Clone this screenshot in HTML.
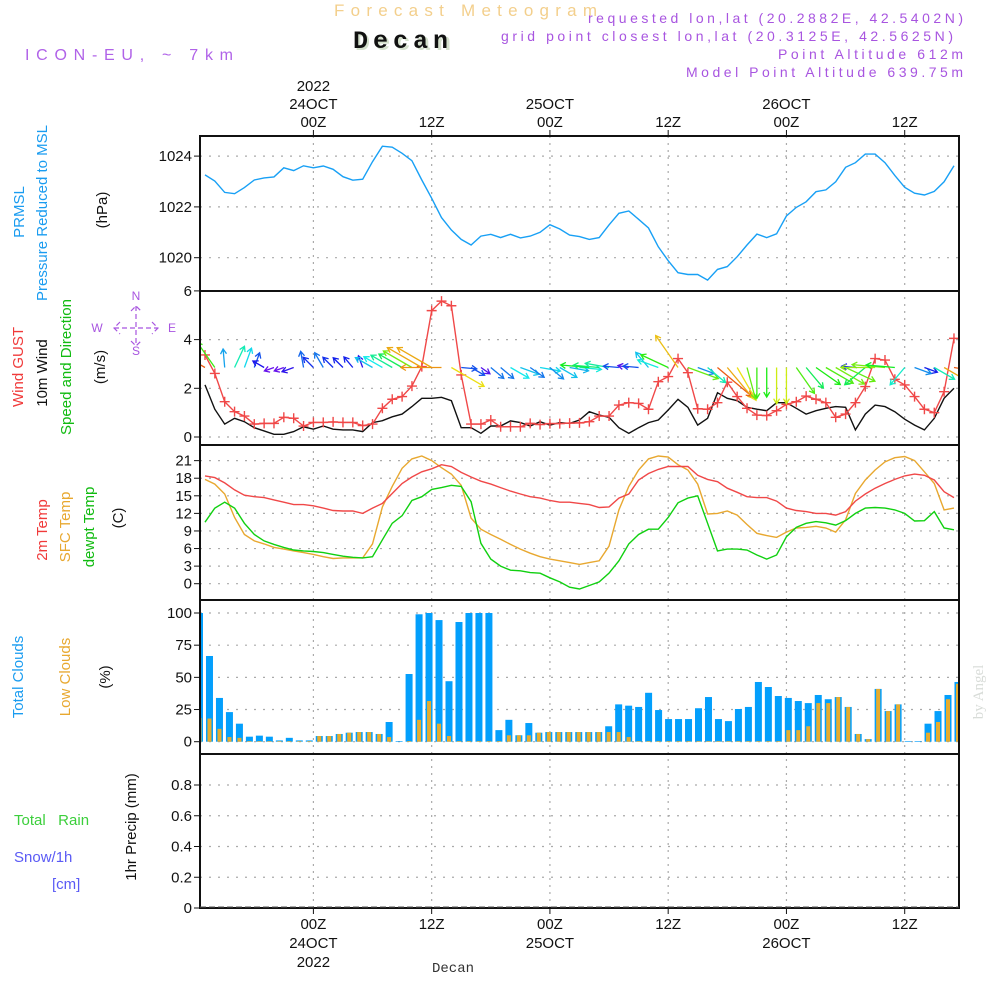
<!DOCTYPE html>
<html><head><meta charset="utf-8"><style>
body{margin:0;background:#fff}
svg{display:block;font-family:"Liberation Sans",sans-serif}
.t{font-size:15px;fill:#111}
.tk{font-size:15px;fill:#111;text-anchor:end}
.lab{font-size:15px}
</style></head><body>
<svg id="chart" width="1000" height="1000" viewBox="0 0 1000 1000">
<rect width="1000" height="1000" fill="#fff"/>
<text x="334" y="16" font-size="17" fill="#f3cf8c" textLength="263">Forecast Meteogram</text>
<text x="353" y="48" font-size="25" font-weight="bold" font-family="Liberation Mono,monospace" fill="#d4e0cc" textLength="96" transform="translate(2,2)">Decan</text>
<text x="353" y="48" font-size="25" font-weight="bold" font-family="Liberation Mono,monospace" fill="#111" textLength="95">Decan</text>
<text x="25" y="60" font-size="16" fill="#b062e8" textLength="208">ICON-EU, ~ 7km</text>
<g font-size="14" fill="#a855e0" text-anchor="end">
<text x="963" y="23" textLength="375">requested lon,lat (20.2882E, 42.5402N)</text>
<text x="953" y="41" textLength="452">grid point closest lon,lat (20.3125E, 42.5625N)</text>
<text x="963" y="59" textLength="185">Point Altitude 612m</text>
<text x="963" y="77" textLength="277">Model Point Altitude 639.75m</text>
</g>
<g id="grid"></g>
<g id="marks"></g>
<g id="frames"></g>
<g id="axes"></g>
<g class="lab">
<text transform="translate(24,212) rotate(-90)" text-anchor="middle" fill="#1a9cf0">PRMSL</text>
<text transform="translate(47,213) rotate(-90)" text-anchor="middle" fill="#1a9cf0">Pressure Reduced to MSL</text>
<text transform="translate(107,210) rotate(-90)" text-anchor="middle" fill="#111">(hPa)</text>
<text transform="translate(23,367) rotate(-90)" text-anchor="middle" fill="#f03a3a">Wind GUST</text>
<text transform="translate(47,373) rotate(-90)" text-anchor="middle" fill="#111">10m Wind</text>
<text transform="translate(71,367) rotate(-90)" text-anchor="middle" fill="#11bb11">Speed and Direction</text>
<text transform="translate(105,367) rotate(-90)" text-anchor="middle" fill="#111">(m/s)</text>
<g fill="#a855e0" font-size="12" stroke="none">
<text x="136" y="300" text-anchor="middle">N</text><text x="136" y="355" text-anchor="middle">S</text>
<text x="97" y="332" text-anchor="middle">W</text><text x="172" y="332" text-anchor="middle">E</text>
<path d="M114 328 h44 M136 306 v40 M120 322 l-6 6 6 6 M152 322 l6 6 -6 6 M131 311 l5 -5 5 5 M131 341 l5 5 5 -5" stroke="#a855e0" stroke-dasharray="5,3" fill="none" stroke-width="1.2"/>
</g>
<text transform="translate(47,530) rotate(-90)" text-anchor="middle" fill="#f03a3a">2m Temp</text>
<text transform="translate(70,527) rotate(-90)" text-anchor="middle" fill="#e8a830">SFC Temp</text>
<text transform="translate(94,527) rotate(-90)" text-anchor="middle" fill="#11bb11">dewpt Temp</text>
<text transform="translate(123,518) rotate(-90)" text-anchor="middle" fill="#111">(C)</text>
<text transform="translate(23,677) rotate(-90)" text-anchor="middle" fill="#1a9cf0">Total Clouds</text>
<text transform="translate(70,677) rotate(-90)" text-anchor="middle" fill="#e8a830">Low Clouds</text>
<text transform="translate(110,677) rotate(-90)" text-anchor="middle" fill="#111">(%)</text>
<text transform="translate(136,827) rotate(-90)" text-anchor="middle" fill="#111">1hr Precip (mm)</text>
<text x="14" y="825" fill="#3ccf3c" font-size="15">Total&#160;&#160;&#160;Rain</text>
<text x="14" y="862" fill="#5a5af5" font-size="15">Snow/1h</text>
<text x="52" y="889" fill="#5a5af5" font-size="15">[cm]</text>
</g>
<text x="453" y="972" font-size="14" font-family="Liberation Mono,monospace" fill="#333" text-anchor="middle">Decan</text>
<text transform="translate(983,692) rotate(-90)" text-anchor="middle" font-size="15" font-family="Liberation Serif,serif" fill="#d8dcd8">by Angel</text>
</svg>
<script>
const hours = [];
for (let h = -11; h <= 65; h++) hours.push(h);
const pressure = [1023.26,1023.02,1022.57,1022.52,1022.76,1023.06,1023.14,1023.18,1023.54,1023.43,1023.62,1023.54,1023.61,1023.48,1023.19,1023.05,1023.09,1023.78,1024.39,1024.35,1024.11,1023.82,1023.06,1022.34,1021.58,1021.09,1020.72,1020.50,1020.85,1020.92,1020.79,1020.92,1020.78,1020.85,1021.00,1021.30,1021.13,1020.89,1020.83,1020.72,1020.79,1021.29,1021.75,1021.84,1021.51,1021.17,1020.43,1019.88,1019.41,1019.34,1019.34,1019.12,1019.54,1019.65,1020.04,1020.50,1020.93,1020.79,1020.94,1021.64,1021.98,1022.20,1022.60,1022.67,1022.99,1023.56,1023.74,1024.08,1024.08,1023.74,1023.24,1022.77,1022.54,1022.47,1022.61,1022.99,1023.62];
const gust = [3.37,2.61,1.45,1.04,0.86,0.53,0.56,0.56,0.81,0.77,0.45,0.60,0.60,0.62,0.60,0.60,0.47,0.53,1.18,1.55,1.66,2.09,2.89,5.19,5.58,5.39,2.55,0.53,0.53,0.70,0.42,0.42,0.42,0.56,0.51,0.55,0.55,0.57,0.58,0.63,0.86,0.86,1.31,1.41,1.38,1.14,2.27,2.48,3.22,2.64,1.16,1.14,1.41,2.25,1.66,1.18,0.90,0.88,1.08,1.34,1.45,1.68,1.55,1.41,0.81,0.94,1.41,2.07,3.22,3.16,2.37,2.14,1.66,1.14,1.00,1.86,4.05];
const wind = [2.14,1.14,0.53,0.77,0.63,0.38,0.25,0.11,0.11,0.22,0.42,0.32,0.45,0.32,0.29,0.29,0.22,0.59,0.67,0.83,0.94,1.25,1.59,1.59,1.63,1.49,0.38,0.38,0.15,0.45,0.45,0.66,0.59,0.45,0.63,0.49,0.59,0.56,0.70,1.04,0.90,0.81,0.38,0.15,0.38,0.59,0.70,1.11,1.55,1.22,0.49,0.77,1.82,1.59,1.49,1.22,1.14,1.08,1.41,1.41,1.18,0.94,1.08,1.18,1.25,1.22,0.29,0.94,1.31,1.25,1.04,0.73,0.49,0.29,0.77,1.59,2.00];
const windDir = [300,325,355,25,20,20,300,250,250,250,350,315,330,315,315,320,340,300,300,300,300,300,300,300,270,120,95,120,125,130,130,120,110,125,100,130,120,100,95,275,275,280,275,280,275,320,290,295,325,110,110,130,130,140,150,165,180,180,180,180,145,140,125,120,120,115,275,230,270,275,275,220,110,110,120,120,100];
const temp2m = [18.4,18.1,17.2,16.0,15.1,14.85,14.7,14.3,13.9,13.5,13.5,13.3,12.9,12.5,12.4,12.4,12.0,12.9,13.7,15.4,17.1,18.2,19.1,19.6,20.3,20.0,19.0,18.2,17.5,17.0,16.4,15.8,15.3,14.85,14.6,14.2,13.9,13.9,13.7,13.5,13.0,13.1,14.6,15.3,17.7,18.8,19.5,20.0,20.0,20.0,18.5,17.8,17.4,16.3,15.6,14.85,14.7,14.7,14.1,12.9,12.5,12.3,12.0,12.0,11.7,12.3,14.1,15.3,16.3,17.1,17.8,18.4,18.7,18.5,17.7,15.7,14.7];
const tempSfc = [17.8,17.0,15.3,11.3,8.4,7.3,6.8,6.2,5.9,5.6,5.3,5.0,4.6,4.3,4.4,4.4,4.4,6.8,13.1,16.6,19.7,21.3,21.8,21.0,19.8,18.7,16.8,11.2,9.3,8.4,7.6,6.7,5.9,5.2,4.6,4.2,3.9,3.6,3.3,3.6,3.9,6.4,12.6,16.6,19.4,21.3,21.8,21.6,20.3,19.4,17.0,11.9,12.0,12.4,11.7,10.1,8.6,8.2,7.9,8.8,9.5,9.6,9.8,9.5,8.8,10.9,15.4,17.7,19.4,20.8,21.5,21.7,21.0,19.1,17.1,12.6,12.9];
const dewpt = [10.5,12.9,13.9,12.9,10.3,8.4,7.3,6.7,6.2,5.75,5.6,5.5,5.3,5.0,4.7,4.5,4.4,4.6,7.5,10.3,11.6,14.2,14.85,16.1,16.4,16.8,16.6,14.0,6.9,4.2,3.0,2.3,2.2,1.9,1.8,1.0,0.3,-0.6,-0.9,-0.3,0.3,1.8,3.9,6.8,8.4,9.3,9.3,11.3,13.8,14.6,15.0,10.3,5.6,5.9,5.9,5.75,4.9,4.2,4.9,8.0,9.6,10.3,10.6,10.4,10.0,10.75,12.0,12.9,13.0,12.9,12.6,12.0,10.7,10.75,12.3,9.5,9.2];
const totalClouds = [100,66.6,34,23,14,3.9,4.7,3.9,1,3,1,1,4.4,4.4,6,7,7.5,7.5,6,15.3,0.5,52.6,99,100,94.5,47,93,100,100,100,9,17,5,14.5,7,7.5,7.5,7.5,7.5,7.5,7.5,12,29,28,27,38,24.6,17.6,17.6,17.6,26,34.7,17.6,16,25.4,27,46.4,42.5,35.5,34,31.6,30,36.3,33,34.7,27,6,2,41,23.8,29,0.5,0.5,14,23.8,36.3,46.4];
const lowClouds = [18.4,18,10,3.6,3,0.5,0.5,0.5,0.5,0.5,0.5,0.5,4.4,4.4,6,7,7.5,7.5,6,3.6,0,0.5,17,31.6,14,4.4,0.5,0.5,0.5,0.5,0.5,5,5,5,7,7.5,7.5,7.5,7.5,7.5,7.5,7.5,7.5,3.6,0.5,0.5,0.5,0.5,0.5,0.5,0.5,0.5,0.5,0.5,0.5,0.5,0.5,0.5,0.5,9,9,12,30,30,34.7,27,6,2,41,23.8,29,0,0,7,15.3,33,45];
const pressureTicks = [1020,1022,1024];
const windTicks = [0,2,4,6];
const tempTicks = [0,3,6,9,12,15,18,21];
const cloudTicks = [0,25,50,75,100];
const precipTicks = [0,0.2,0.4,0.6,0.8];
const timeTicks = [0,12,24,36,48,60];
const timeLabels = ["00Z","12Z","00Z","12Z","00Z","12Z"];
const dateLabels = ["24OCT","","25OCT","","26OCT",""];

const NS = "http://www.w3.org/2000/svg";
const X0 = 200, X1 = 959;
const xH = h => 313.4 + 9.855 * h;
const xBar = i => 199.5 + 9.98 * i;
const yP = p => 257.7 - 25.4 * (p - 1020);
const yW = v => 437 - 24.35 * v;
const yT = t => 583.7 - 5.86 * t;
const yC = v => 741.7 - 1.287 * v;
const yR = v => 908 - 153.75 * v;
const panels = [[136,291],[291,445],[445,600],[600,754],[754,908]];

function mk(tag, attrs, parent) {
  const e = document.createElementNS(NS, tag);
  for (const k in attrs) e.setAttribute(k, attrs[k]);
  parent.appendChild(e);
  return e;
}
const grid = document.getElementById('grid');
const marks = document.getElementById('marks');
const frames = document.getElementById('frames');
const axes = document.getElementById('axes');

const defs = mk('defs', {}, document.getElementById('chart'));
const cp = mk('clipPath', {id: 'plotclip'}, defs);
mk('rect', {x: X0, y: 136, width: X1 - X0, height: 772}, cp);
marks.setAttribute('clip-path', 'url(#plotclip)');

timeTicks.forEach((h, i) => {
  const x = xH(h);
  const g = mk('line', {x1: x, x2: x, y1: 136, y2: 908, stroke: '#aaa', 'stroke-dasharray': '2,5', 'stroke-width': 1.2}, grid);
  
  
  mk('line', {x1: x, x2: x, y1: 130, y2: 136, stroke: '#111'}, axes);
  mk('line', {x1: x, x2: x, y1: 908, y2: 914, stroke: '#111'}, axes);
  const t1 = mk('text', {x: x, y: 127, class: 't', 'text-anchor': 'middle', 'font-size': 16}, axes);
  t1.textContent = timeLabels[i];
  
  
  const t2 = mk('text', {x: x, y: 929, class: 't', 'text-anchor': 'middle', 'font-size': 16}, axes);
  t2.textContent = timeLabels[i];
  
  
  if (dateLabels[i]) {
    const d1 = mk('text', {x: x, y: 109, class: 't', 'text-anchor': 'middle', 'font-size': 16}, axes);
    d1.textContent = dateLabels[i];
    
    
    const d2 = mk('text', {x: x, y: 948, class: 't', 'text-anchor': 'middle', 'font-size': 16}, axes);
    d2.textContent = dateLabels[i];
    
    
  }
});
const y1 = mk('text', {x: xH(0), y: 91, class: 't', 'text-anchor': 'middle', 'font-size': 16}, axes);
y1.textContent = '2022';


const y2 = mk('text', {x: xH(0), y: 967, class: 't', 'text-anchor': 'middle', 'font-size': 16}, axes);
y2.textContent = '2022';



function yAxis(ticks, fy, fmt, name) {
  ticks.forEach(v => {
    const y = fy(v);
    const g = mk('line', {x1: X0, x2: X1, y1: y, y2: y, stroke: '#aaa', 'stroke-dasharray': '2,7', 'stroke-width': 1.2}, grid);
    
    
    mk('line', {x1: X0 - 6, x2: X0, y1: y, y2: y, stroke: '#111'}, axes);
    const t = mk('text', {x: X0 - 8, y: y + 5, class: 'tk'}, axes);
    t.textContent = fmt(v);
    
    
  });
}
yAxis(pressureTicks, yP, v => String(v), 'pressure');
yAxis(windTicks, yW, v => String(v), 'wind');
yAxis(tempTicks, yT, v => String(v), 'temp');
yAxis(cloudTicks, yC, v => String(v), 'cloud');
yAxis(precipTicks, yR, v => v === 0 ? '0' : v.toFixed(1), 'precip');

panels.forEach(([a, b]) => {
  const r = mk('rect', {x: X0, y: a, width: X1 - X0, height: b - a, fill: 'none', stroke: '#111', 'stroke-width': 2}, frames);
  
  
});
const zl = mk('line', {x1: X0, x2: X1, y1: 907, y2: 907, stroke: '#555', 'stroke-dasharray': '6,3', 'stroke-width': 1}, frames);



function line(arr, fy, color, name) {
  const d = arr.map((v, i) => (i ? 'L' : 'M') + xH(hours[i]).toFixed(1) + ' ' + fy(v).toFixed(1)).join(' ');
  const p = mk('path', {d: d, fill: 'none', stroke: color, 'stroke-width': 1.4}, marks);
  
  
}
totalClouds.forEach((v, i) => {
  const x = xBar(i);
  const b = mk('rect', {x: x - 3.5, y: yC(v), width: 7, height: yC(0) - yC(v), fill: '#039ffc'}, marks);
  
  
});
lowClouds.forEach((v, i) => {
  const x = xBar(i);
  const b = mk('rect', {x: x - 2, y: yC(v), width: 4, height: yC(0) - yC(v), fill: '#e6ac2e'}, marks);
  
  
});
line(pressure, yP, '#18a0f5', 'pressure-line');
line(wind, yW, '#111', 'wind-speed-line');
line(gust, yW, '#f04848', 'wind-gust-line');
gust.forEach((v, i) => {
  const x = xH(hours[i]), y = yW(v);
  const m = mk('path', {d: `M${x-5} ${y}h10M${x} ${y-5}v10`, stroke: '#f04848', 'stroke-width': 1.4}, marks);
  
  
});
function spdColor(s) {
  const hue = Math.max(20, 280 - s * 150);
  return `hsl(${hue},85%,50%)`;
}
wind.forEach((s, i) => {
  const x = xH(hours[i]), y = 367.5;
  const L = 8 + s * 20;
  const a = windDir[i] * Math.PI / 180;
  const tx = x + L * Math.sin(a), ty = y - L * Math.cos(a);
  const hx = Math.sin(a), hy = -Math.cos(a);
  const px = -hy, py = hx;
  const c = spdColor(s);
  const d = `M${x} ${y}L${tx} ${ty}M${tx - 5*hx + 3*px} ${ty - 5*hy + 3*py}L${tx} ${ty}L${tx - 5*hx - 3*px} ${ty - 5*hy - 3*py}`;
  const ar = mk('path', {d: d, stroke: c, 'stroke-width': 1.3, fill: 'none'}, marks);
  
  
});
line(tempSfc, yT, '#e8a830', 'sfc-temp-line');
line(temp2m, yT, '#f04848', 'temp2m-line');
line(dewpt, yT, '#10d010', 'dewpoint-line');
</script>
</body></html>
